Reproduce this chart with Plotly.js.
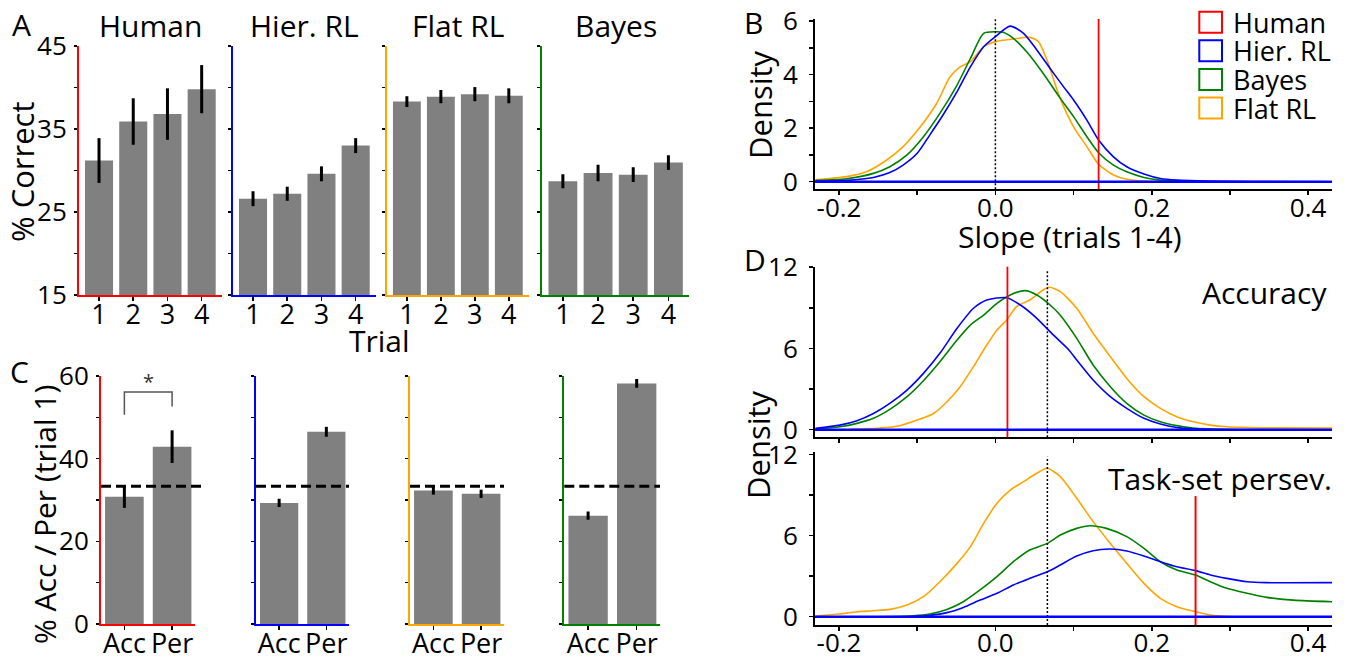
<!DOCTYPE html>
<html><head><meta charset="utf-8">
<script src="https://cdn.plot.ly/plotly-3.0.1.min.js"></script>
<style>html,body{margin:0;padding:0;background:#fff}#chart{width:1347px;height:658px}</style>
</head><body><div id="chart"></div>
<script>
// ================= DATA =================
const models = ['Human', 'Hier. RL', 'Flat RL', 'Bayes'];
const modelColors = ['#ff0000', '#0000ff', '#ffa500', '#008000'];

// Panel A: % correct by trial
const trials = ['1', '2', '3', '4'];
const correctHuman = [31.2, 35.9, 36.8, 39.8];
const correctHumanErr = [2.7, 2.8, 3.1, 2.9];
const correctHier = [26.6, 27.2, 29.6, 33.0];
const correctHierErr = [0.9, 0.85, 0.9, 0.9];
const correctFlat = [38.3, 38.9, 39.2, 39.0];
const correctFlatErr = [0.65, 0.8, 0.85, 0.9];
const correctBayes = [28.7, 29.7, 29.5, 30.95];
const correctBayesErr = [0.85, 1.0, 0.9, 0.9];

// Panel C: % accuracy / perseveration at trial 1
const conditions = ['Acc', 'Per'];
const trial1Human = [30.8, 42.9];
const trial1HumanErr = [2.7, 3.95];
const trial1Hier = [29.3, 46.5];
const trial1HierErr = [1.0, 1.2];
const trial1Flat = [32.3, 31.5];
const trial1FlatErr = [1.0, 1.0];
const trial1Bayes = [26.2, 58.2];
const trial1BayesErr = [1.0, 1.05];
const chanceLevel = 33.3;
const sigBracketX = ['Acc', 'Acc', 'Per', 'Per'];
const sigBracketY = [50.6, 56.1, 56.1, 52.6];
const sigStarY = 58.6;

// Panel B: density of slopes (trials 1-4)
const slopeHierX = [-0.230, -0.19, -0.156, -0.135, -0.118, -0.100, -0.084, -0.067, -0.049, -0.032, -0.015, 0.000, 0.019, 0.036, 0.053, 0.070, 0.087, 0.100, 0.117, 0.132, 0.151, 0.168, 0.190, 0.211, 0.232, 0.275, 0.330, 0.431];
const slopeHierY = [0.02, 0.05, 0.16, 0.34, 0.62, 1.06, 1.74, 2.49, 3.36, 4.29, 5.04, 5.42, 5.81, 5.54, 4.92, 4.23, 3.55, 3.05, 2.30, 1.56, 0.93, 0.56, 0.29, 0.12, 0.06, 0.025, 0.01, 0.0];
const slopeBayesX = [-0.230, -0.19, -0.156, -0.135, -0.113, -0.092, -0.071, -0.049, -0.032, -0.015, 0.000, 0.010, 0.023, 0.040, 0.061, 0.083, 0.100, 0.117, 0.132, 0.151, 0.168, 0.190, 0.211, 0.253, 0.431];
const slopeBayesY = [0.05, 0.11, 0.31, 0.56, 1.00, 1.68, 2.55, 3.61, 4.60, 5.54, 5.60, 5.58, 5.35, 4.85, 4.05, 3.11, 2.43, 1.68, 1.08, 0.62, 0.37, 0.16, 0.06, 0.01, 0.0];
const slopeFlatX = [-0.230, -0.19, -0.165, -0.139, -0.118, -0.096, -0.075, -0.058, -0.045, -0.032, -0.015, 0.000, 0.023, 0.044, 0.055, 0.066, 0.083, 0.100, 0.117, 0.132, 0.151, 0.168, 0.190, 0.231, 0.431];
const slopeFlatY = [0.07, 0.19, 0.37, 0.81, 1.31, 2.05, 2.93, 3.92, 4.29, 4.48, 5.04, 5.23, 5.33, 5.39, 5.23, 4.54, 3.10, 2.05, 1.31, 0.65, 0.25, 0.09, 0.02, 0.0, 0.0];
const slopeHuman = 0.132;
const slopeReference = 0.0;

// Panel D: accuracy slope densities
const accHierX = [-0.230, -0.199, -0.177, -0.156, -0.135, -0.113, -0.092, -0.071, -0.049, -0.028, -0.011, 0.0145, 0.032, 0.053, 0.074, 0.094, 0.104, 0.125, 0.147, 0.168, 0.190, 0.211, 0.232, 0.253, 0.300, 0.431];
const accHierY = [0.10, 0.34, 0.67, 1.20, 1.95, 2.93, 4.16, 5.64, 7.49, 8.97, 9.58, 9.75, 9.21, 8.23, 7.00, 5.89, 5.15, 3.67, 2.44, 1.58, 0.84, 0.42, 0.17, 0.07, 0.01, 0.0];
const accBayesX = [-0.230, -0.199, -0.177, -0.156, -0.135, -0.113, -0.092, -0.071, -0.049, -0.032, -0.015, 0.002, 0.019, 0.038, 0.053, 0.070, 0.083, 0.104, 0.125, 0.147, 0.168, 0.190, 0.211, 0.232, 0.253, 0.296, 0.431];
const accBayesY = [0.05, 0.22, 0.47, 0.84, 1.50, 2.44, 3.62, 5.02, 6.63, 7.73, 8.47, 9.33, 9.95, 10.27, 9.95, 9.21, 8.45, 6.75, 4.78, 3.18, 1.95, 1.08, 0.59, 0.30, 0.12, 0.02, 0.0];
const accFlatX = [-0.230, -0.190, -0.148, -0.122, -0.100, -0.079, -0.062, -0.045, -0.028, -0.015, 0.002, 0.0145, 0.027, 0.044, 0.061, 0.069, 0.083, 0.104, 0.125, 0.147, 0.168, 0.190, 0.211, 0.232, 0.253, 0.275, 0.296, 0.339, 0.431];
const accFlatY = [0.0, 0.02, 0.12, 0.30, 0.71, 1.20, 2.07, 3.18, 4.66, 5.89, 7.36, 8.10, 9.09, 9.58, 10.32, 10.52, 10.20, 8.97, 7.12, 5.39, 3.79, 2.44, 1.58, 0.96, 0.59, 0.34, 0.22, 0.15, 0.12];
const accHuman = 0.0154;

// Panel D: task-set perseveration slope densities
const persHierX = [-0.230, -0.105, -0.084, -0.062, -0.041, -0.0196, 0.002, 0.023, 0.044, 0.0665, 0.083, 0.104, 0.125, 0.147, 0.168, 0.190, 0.211, 0.232, 0.256, 0.275, 0.296, 0.322, 0.347, 0.431];
const persHierY = [0.0, 0.02, 0.10, 0.30, 0.69, 1.23, 1.73, 2.35, 2.84, 3.33, 3.83, 4.49, 4.89, 5.01, 4.86, 4.49, 4.07, 3.70, 3.41, 3.09, 2.84, 2.59, 2.52, 2.52];
const persBayesX = [-0.230, -0.148, -0.105, -0.084, -0.062, -0.041, -0.0196, 0.002, 0.023, 0.044, 0.0665, 0.083, 0.104, 0.121, 0.142, 0.168, 0.190, 0.211, 0.232, 0.256, 0.275, 0.296, 0.322, 0.347, 0.381, 0.431];
const persBayesY = [0.0, 0.0, 0.07, 0.20, 0.54, 1.11, 1.98, 2.96, 4.07, 4.94, 5.43, 6.05, 6.54, 6.74, 6.54, 5.93, 5.06, 4.07, 3.46, 3.09, 2.59, 2.10, 1.73, 1.43, 1.23, 1.11];
const persFlatX = [-0.230, -0.199, -0.177, -0.156, -0.135, -0.113, -0.092, -0.071, -0.049, -0.032, -0.015, 0.002, 0.019, 0.036, 0.053, 0.066, 0.083, 0.104, 0.125, 0.147, 0.168, 0.190, 0.211, 0.232, 0.256, 0.275, 0.296, 0.431];
const persFlatY = [0.05, 0.20, 0.37, 0.44, 0.54, 0.86, 1.48, 2.59, 3.95, 5.19, 6.91, 8.40, 9.38, 10.00, 10.62, 10.99, 10.37, 8.77, 7.04, 5.43, 3.95, 2.47, 1.36, 0.74, 0.37, 0.12, 0.02, 0.0];
const persHuman = 0.256;
const slopeReferenceD = 0.0665;

const slopeTickVals = [-0.2, 0.0, 0.2, 0.4];
const slopeTickText = ['-0.2', '0.0', '0.2', '0.4'];
const legendModels = ['Human', 'Hier. RL', 'Bayes', 'Flat RL'];

// ================= LAYOUT HELPERS =================
const W = 1347, H = 658;
const FONT = 'Open Sans';
const fx = p => p / W;
const fy = p => 1 - p / H;
const sfx = i => (i === 1 ? '' : String(i));
const colorOf = name => modelColors[models.indexOf(name)];

const layout = {
  width: W, height: H,
  margin: {l: 0, r: 0, t: 0, b: 0},
  paper_bgcolor: '#ffffff', plot_bgcolor: 'rgba(0,0,0,0)',
  showlegend: false,
  font: {family: FONT, color: '#000'},
  shapes: [], annotations: []
};
const traces = [];

function baseAxis(extra) {
  return Object.assign({
    showgrid: false, zeroline: false, showline: true, linewidth: 2,
    ticks: 'outside', ticklen: 4, tickwidth: 1.5, tickcolor: '#000',
    tickfont: {family: FONT, size: 26, color: '#000'}, fixedrange: true
  }, extra);
}
function setAxes(i, xPx, yPx, xopt, yopt) {
  layout['xaxis' + sfx(i)] = baseAxis(Object.assign({
    domain: [fx(xPx[0]), fx(xPx[1])], anchor: 'y' + sfx(i)
  }, xopt));
  layout['yaxis' + sfx(i)] = baseAxis(Object.assign({
    domain: [fy(yPx[1]), fy(yPx[0])], anchor: 'x' + sfx(i)
  }, yopt));
}
function text(t, xp, yp, size, opts) {
  layout.annotations.push(Object.assign({
    text: t, xref: 'paper', yref: 'paper', x: fx(xp), y: fy(yp),
    xanchor: 'center', yanchor: 'middle', showarrow: false,
    font: {family: FONT, size: size, color: '#000'}
  }, opts || {}));
}

// ================= PANEL A =================
const panelA = [
  {name: 'Human', vals: correctHuman, err: correctHumanErr, x: [79, 222]},
  {name: 'Hier. RL', vals: correctHier, err: correctHierErr, x: [233, 376]},
  {name: 'Flat RL', vals: correctFlat, err: correctFlatErr, x: [387, 529]},
  {name: 'Bayes', vals: correctBayes, err: correctBayesErr, x: [542.3, 689.3]}
];
panelA.forEach((p, k) => {
  const i = k + 1;
  const col = colorOf(p.name);
  setAxes(i, p.x, [46, 295],
    {type: 'category', range: [-0.585, 3.594], linecolor: col, tickfont: {family: FONT, size: 27, color: '#000'}, ticklabelstandoff: -9},
    {range: [15, 45], tick0: 15, dtick: 10, ticklen: 3, linecolor: col, showticklabels: i === 1, ticklabelstandoff: 2,
     minor: {tick0: 15, dtick: 5, ticks: 'outside', ticklen: 3, tickwidth: 1.5, tickcolor: '#000'}});
  traces.push({
    type: 'bar', x: trials, y: p.vals, width: 0.82,
    marker: {color: '#808080', line: {width: 0}},
    error_y: {type: 'data', array: p.err, visible: true, color: '#000', thickness: 3, width: 0},
    xaxis: 'x' + sfx(i), yaxis: 'y' + sfx(i), hoverinfo: 'skip'
  });
  text(p.name, (p.x[0] + p.x[1]) / 2, 25, 30);
});
text('A', 10, 24, 30, {xanchor: 'left'});
text('% Correct', 22, 172, 31, {textangle: -90});
text('Trial', 379, 341, 30);

// ================= PANEL C =================
const panelC = [
  {name: 'Human', vals: trial1Human, err: trial1HumanErr, x: [101, 195], dashEnd: 1.1},
  {name: 'Hier. RL', vals: trial1Hier, err: trial1HierErr, x: [256, 349], dashEnd: 1.0},
  {name: 'Flat RL', vals: trial1Flat, err: trial1FlatErr, x: [410, 504], dashEnd: 1.0},
  {name: 'Bayes', vals: trial1Bayes, err: trial1BayesErr, x: [564.3, 660], dashEnd: 1.0}
];
panelC.forEach((p, k) => {
  const i = k + 5;
  const col = colorOf(p.name);
  setAxes(i, p.x, [376, 624],
    {type: 'category', range: [-0.49, 1.48], linecolor: col, tickfont: {family: FONT, size: 27, color: '#000'}, ticklabelstandoff: -9},
    {range: [0, 60], tick0: 0, dtick: 20, ticklen: 3, linecolor: col, showticklabels: k === 0, ticklabelstandoff: 2,
     minor: {tick0: 0, dtick: 10, ticks: 'outside', ticklen: 3, tickwidth: 1.5, tickcolor: '#000'}});
  traces.push({
    type: 'bar', x: conditions, y: p.vals, width: 0.81,
    marker: {color: '#808080', line: {width: 0}},
    error_y: {type: 'data', array: p.err, visible: true, color: '#000', thickness: 3, width: 0},
    xaxis: 'x' + sfx(i), yaxis: 'y' + sfx(i), hoverinfo: 'skip'
  });
  layout.shapes.push({
    type: 'line', xref: 'x' + sfx(i) + ' domain', yref: 'y' + sfx(i),
    x0: 0, x1: p.dashEnd, y0: chanceLevel, y1: chanceLevel,
    line: {color: '#000', width: 3, dash: '10px,5px'}, layer: 'above'
  });
});
traces.push({
  type: 'scatter', mode: 'lines', x: sigBracketX, y: sigBracketY,
  line: {color: '#555', width: 1.5}, xaxis: 'x5', yaxis: 'y5', hoverinfo: 'skip'
});
layout.annotations.push({
  text: '*', xref: 'x5', yref: 'y5', x: 0.5, y: sigStarY, showarrow: false,
  font: {family: FONT, size: 20, color: '#333'}
});
text('C', 8, 371, 30, {xanchor: 'left'});
text('% Acc / Per (trial 1)', 44, 515, 30, {textangle: -90});

// ================= PANELS B & D =================
const slopeRange = [-0.2307, 0.4305];
function densityAxes(i, yPx, yRange, ydtick, showX) {
  setAxes(i, [815, 1332], yPx,
    {range: slopeRange, tickmode: 'array', tickvals: slopeTickVals, ticktext: slopeTickText,
     showticklabels: showX, linecolor: '#000', ticklabelstandoff: -10,
     minor: {tickmode: 'array', tickvals: [-0.1, 0.1, 0.3], ticks: 'outside', ticklen: 4, tickwidth: 1.5, tickcolor: '#000'}},
    {range: yRange, tick0: 0, dtick: ydtick, linecolor: '#000', ticklen: 4, ticklabelstandoff: 6,
     minor: {tick0: 0, dtick: ydtick / 2, ticks: 'outside', ticklen: 4, tickwidth: 1.5, tickcolor: '#000'}});
}
function curve(i, xs, ys, name) {
  traces.push({
    type: 'scatter', mode: 'lines', x: xs, y: ys, name: name,
    line: {color: colorOf(name), width: 1.6, shape: 'spline', smoothing: 0.7},
    xaxis: 'x' + sfx(i), yaxis: 'y' + sfx(i), hoverinfo: 'skip'
  });
}
function vline(i, xv, color, dash, width, top) {
  layout.shapes.push({
    type: 'line', xref: 'x' + sfx(i), yref: 'y' + sfx(i) + ' domain',
    x0: xv, x1: xv, y0: 0, y1: top, line: {color: color, width: width, dash: dash}, layer: 'above'
  });
}
function baseline(i) {
  layout.shapes.push({
    type: 'line', xref: 'x' + sfx(i) + ' domain', yref: 'y' + sfx(i),
    x0: 0, x1: 1, y0: 0, y1: 0, line: {color: colorOf('Hier. RL'), width: 2.5}, layer: 'above'
  });
}

// B
densityAxes(9, [19, 189.3], [-0.284, 6.075], 2, true);
curve(9, slopeFlatX, slopeFlatY, 'Flat RL');
curve(9, slopeBayesX, slopeBayesY, 'Bayes');
curve(9, slopeHierX, slopeHierY, 'Hier. RL');
vline(9, slopeReference, '#000', '2px,2px', 1.5, 1);
vline(9, slopeHuman, colorOf('Human'), 'solid', 1.8, 1);
baseline(9);
text('B', 742, 22, 30, {xanchor: 'left'});
text('Density', 760, 105, 31, {textangle: -90});
text('Slope (trials 1-4)', 1070, 237, 30);

// D accuracy
densityAxes(10, [266.7, 437.3], [-0.56, 12.04], 6, false);
curve(10, accFlatX, accFlatY, 'Flat RL');
curve(10, accBayesX, accBayesY, 'Bayes');
curve(10, accHierX, accHierY, 'Hier. RL');
vline(10, slopeReferenceD, '#000', '2px,2px', 1.5, 0.985);
vline(10, accHuman, colorOf('Human'), 'solid', 1.8, 1);
baseline(10);
text('Accuracy', 1329, 292, 30, {xanchor: 'right'});

// D task-set perseveration
densityAxes(11, [451.7, 625], [-0.615, 12.22], 6, true);
curve(11, persFlatX, persFlatY, 'Flat RL');
curve(11, persBayesX, persBayesY, 'Bayes');
curve(11, persHierX, persHierY, 'Hier. RL');
vline(11, slopeReferenceD, '#000', '2px,2px', 1.5, 0.971);
vline(11, persHuman, colorOf('Human'), 'solid', 2, 0.744);
baseline(11);
text('Task-set persev.', 1334, 479, 30, {xanchor: 'right'});
text('D', 742, 259, 30, {xanchor: 'left'});
text('Density', 758, 445, 31, {textangle: -90});

// Legend (B)
legendModels.forEach((name, k) => {
  const top = 11.7 + k * 28.6;
  layout.shapes.push({
    type: 'rect', xref: 'paper', yref: 'paper',
    x0: fx(1199.3), x1: fx(1222), y0: fy(top + 21), y1: fy(top),
    line: {color: colorOf(name), width: 2}, fillcolor: 'rgba(0,0,0,0)'
  });
  text(name, 1230.7, top + 10.5, 27, {xanchor: 'left'});
});

Plotly.newPlot('chart', traces, layout, {staticPlot: true, displayModeBar: false});
</script>
</body></html>
